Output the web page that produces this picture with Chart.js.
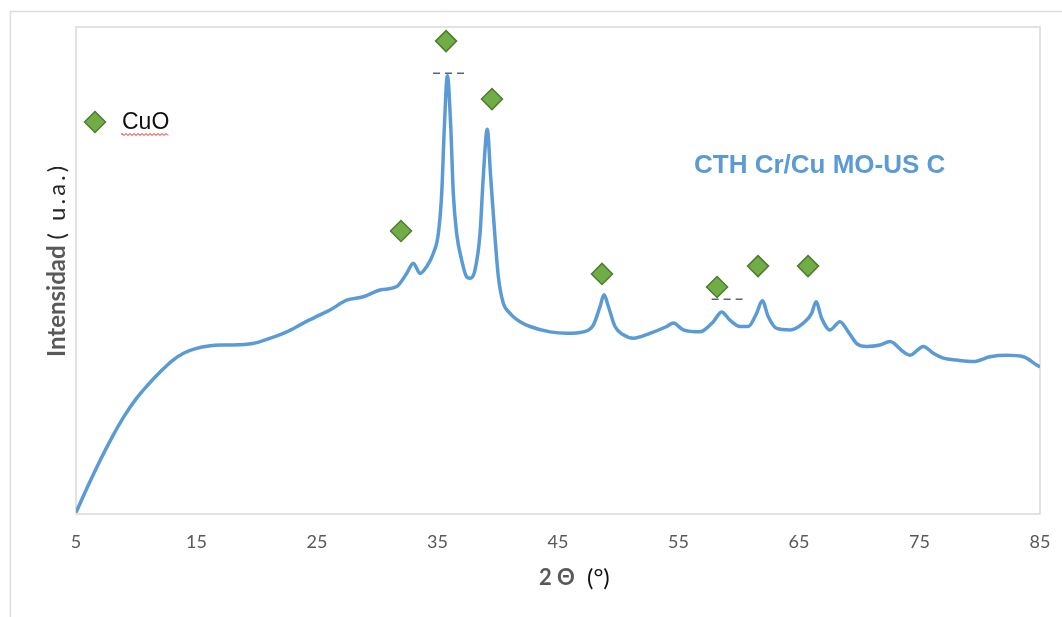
<!DOCTYPE html>
<html>
<head>
<meta charset="utf-8">
<script src="https://cdn.jsdelivr.net/npm/chart.js@4.4.1/dist/chart.umd.min.js"></script>
<style>
  html, body { margin: 0; padding: 0; background: #ffffff; }
  #wrap { width: 1062px; height: 617px; position: relative; }
</style>
</head>
<body>
<div id="wrap"><canvas id="c" width="1062" height="617"></canvas></div>
<script>
// ---- data ----
const twoTheta = [5.0, 6.0, 7.0, 8.0, 9.0, 10.0, 11.0, 12.0, 13.0, 14.0, 15.0, 16.0, 17.0, 18.0, 19.0,
  20.0, 21.0, 22.49, 23.86, 25.25, 26.08, 27.46, 28.84, 30.23, 31.61, 32.44, 32.99, 33.55, 34.1, 34.65, 35.07,
  35.35, 35.57, 35.82, 36.1, 36.31, 36.59, 37.0, 37.42, 37.7, 38.11, 38.53, 38.8, 39.13, 39.41, 39.77,
  40.05, 40.46, 41.02, 41.29, 41.85, 42.68, 44.34, 45.72, 47.1, 47.93, 48.49, 48.82, 49.18, 49.73,
  50.42, 51.25, 52.63, 54.02, 54.57, 55.4, 56.78, 57.89, 58.58, 59.27, 60.1, 60.79, 61.48, 61.95,
  62.45, 63.15, 64.25, 65.36, 66.05, 66.41, 66.88, 67.57, 68.4, 69.09, 69.79, 70.62, 71.72, 72.55,
  73.66, 74.21, 75.32, 76.15, 76.98, 78.09, 79.47, 80.85, 82.24, 83.62, 84.73, 85.0];
const intensity = [0.3, 5.8, 11.0, 15.8, 20.1, 23.7, 26.6, 29.2, 31.5, 33.1, 34.0, 34.5, 34.7, 34.7, 34.8,
  35.2, 36.0, 37.4, 39.2, 40.9, 41.9, 43.9, 44.6, 46.0, 46.7, 49.4, 51.5, 49.4, 50.8, 53.5, 57.6,
  65.9, 79.5, 90.0, 79.5, 65.9, 57.6, 52.2, 48.7, 48.4, 50.1, 57.6, 69.3, 79.0, 69.3, 56.9,
  48.7, 43.3, 41.2, 40.5, 39.5, 38.5, 37.4, 37.1, 37.4, 38.8, 42.6, 45.0, 42.6, 38.5,
  36.8, 36.1, 37.1, 38.5, 39.2, 37.8, 37.4, 39.5, 41.5, 39.8, 38.5, 38.5, 41.2, 43.8,
  40.5, 38.1, 37.8, 39.2, 41.2, 43.6, 40.2, 37.8, 39.5, 37.4, 35.0, 34.4, 34.7, 35.4,
  33.3, 32.6, 34.4, 33.0, 32.0, 31.6, 31.3, 32.3, 32.6, 32.3, 30.6, 30.2];

const cuoTheta = [31.97, 35.71, 39.52, 48.65, 58.2, 61.6, 65.75];
const cuoLevel = [58.1, 97.1, 85.2, 49.3, 46.6, 50.9, 50.9];

const dashA = [[34.63, 90.5], [37.28, 90.5]];
const dashB = [[57.75, 44.1], [60.32, 44.1]];

const xTicks = [5, 15, 25, 35, 45, 55, 65, 75, 85];

const seriesLabel = 'CTH Cr/Cu MO-US C';
const markerLabel = 'CuO';

// ---- styling ----
const LINE_BLUE = '#5B9BD5';
const GREEN = '#70AD47';
const GREEN_DARK = '#4F7A2E';
const AXIS_GRAY = '#595959';
const BOX_GRAY = '#D9D9D9';

const decor = {
  id: 'decor',
  beforeDraw(chart) {
    const ctx = chart.ctx;
    ctx.save();
    ctx.fillStyle = '#ffffff';
    ctx.fillRect(0, 0, chart.width, chart.height);
    ctx.strokeStyle = '#DCDCDC';
    ctx.lineWidth = 1.5;
    ctx.strokeRect(10.5, 11.5, 1200, 800);
    ctx.restore();
  },
  beforeDatasetsDraw(chart) {
    const ctx = chart.ctx, a = chart.chartArea;
    ctx.save();
    ctx.strokeStyle = BOX_GRAY;
    ctx.lineWidth = 1.5;
    ctx.strokeRect(a.left, a.top, a.right - a.left, a.bottom - a.top);
    ctx.restore();
  },
  afterDraw(chart) {
    const ctx = chart.ctx;
    ctx.save();
    // series label
    ctx.fillStyle = LINE_BLUE;
    ctx.font = 'bold 26px "Liberation Sans", Arial, sans-serif';
    ctx.textBaseline = 'middle';
    ctx.textAlign = 'left';
    ctx.fillText(seriesLabel, 694, 166);

    // legend diamond + text
    ctx.fillStyle = GREEN; ctx.strokeStyle = GREEN_DARK; ctx.lineWidth = 1.5;
    ctx.beginPath();
    ctx.moveTo(95 - 10.5, 122); ctx.lineTo(95, 122 - 10.5); ctx.lineTo(95 + 10.5, 122); ctx.lineTo(95, 122 + 10.5); ctx.closePath();
    ctx.fill(); ctx.stroke();
    ctx.fillStyle = '#111111';
    ctx.font = '23px "Liberation Sans", Arial, sans-serif';
    ctx.textBaseline = 'middle';
    ctx.fillText(markerLabel, 122, 123);
    const w = ctx.measureText(markerLabel).width;
    // red wavy underline
    ctx.strokeStyle = '#E02020'; ctx.lineWidth = 1;
    ctx.beginPath();
    let up = true;
    ctx.moveTo(122, 135);
    for (let x = 122; x <= 122 + w; x += 2) { ctx.lineTo(x, up ? 133.5 : 135.5); up = !up; }
    ctx.stroke();

    // y axis title (rotated)
    ctx.translate(57, 0);
    ctx.rotate(-Math.PI / 2);
    ctx.textBaseline = 'middle';
    ctx.textAlign = 'left';
    ctx.font = 'bold 24px Lato, "Open Sans", sans-serif';
    ctx.fillStyle = AXIS_GRAY;
    const t1 = 'Intensidad';
    ctx.fillText(t1, -357, 0);
    const w1 = ctx.measureText(t1).width;
    ctx.font = '24px Lato, "Open Sans", sans-serif';
    ctx.fillStyle = '#262626';
    try { ctx.letterSpacing = '3px'; } catch (e) {}
    ctx.fillText('( u.a.)', -357 + w1 + 6, 0);
    try { ctx.letterSpacing = '0px'; } catch (e) {}
    ctx.restore();

    // x axis title
    ctx.save();
    ctx.textBaseline = 'middle';
    ctx.textAlign = 'left';
    ctx.font = 'bold 22px Lato, "Open Sans", sans-serif';
    ctx.fillStyle = AXIS_GRAY;
    ctx.fillText('2 Θ', 539, 578);
    ctx.font = '24px Lato, "Open Sans", sans-serif';
    ctx.fillStyle = '#111111';
    ctx.fillText('(°)', 587, 578);
    ctx.restore();
  }
};

const toPts = (xs, ys) => xs.map((x, i) => ({x: x, y: ys[i]}));
const pairPts = arr => arr.map(p => ({x: p[0], y: p[1]}));

new Chart(document.getElementById('c'), {
  type: 'line',
  data: {
    datasets: [
      {
        label: markerLabel,
        data: toPts(cuoTheta, cuoLevel),
        showLine: false,
        pointStyle: 'rectRot',
        pointRadius: 10.5,
        pointBackgroundColor: GREEN,
        pointBorderColor: GREEN_DARK,
        pointBorderWidth: 1.5,
        order: 0
      },
      {
        label: 'dashA',
        data: pairPts(dashA),
        borderColor: '#5A6478',
        borderWidth: 1.5,
        borderDash: [7, 5],
        pointRadius: 0,
        order: 1
      },
      {
        label: 'dashB',
        data: pairPts(dashB),
        borderColor: '#5A6478',
        borderWidth: 1.5,
        borderDash: [7, 5],
        pointRadius: 0,
        order: 1
      },
      {
        label: seriesLabel,
        data: toPts(twoTheta, intensity),
        borderColor: LINE_BLUE,
        borderWidth: 3.5,
        pointRadius: 0,
        cubicInterpolationMode: 'monotone',
        order: 2
      }
    ]
  },
  options: {
    responsive: false,
    animation: false,
    events: [],
    layout: { padding: { left: 76, right: 22, top: 27, bottom: 0 } },
    plugins: { legend: { display: false }, tooltip: { enabled: false }, title: { display: false } },
    scales: {
      x: {
        type: 'linear',
        min: 5, max: 85,
        grid: { display: false, drawTicks: false },
        border: { display: false },
        afterBuildTicks(scale) { scale.ticks = xTicks.map(v => ({value: v})); },
        afterFit(scale) { scale.height = 103; scale.paddingLeft = 0; scale.paddingRight = 0; },
        ticks: {
          color: AXIS_GRAY,
          font: { family: 'Lato, "Open Sans", sans-serif', size: 18 },
          padding: 17,
          maxRotation: 0,
          autoSkip: false
        }
      },
      y: {
        display: false,
        min: 0, max: 100
      }
    }
  },
  plugins: [decor]
});
</script>
</body>
</html>
